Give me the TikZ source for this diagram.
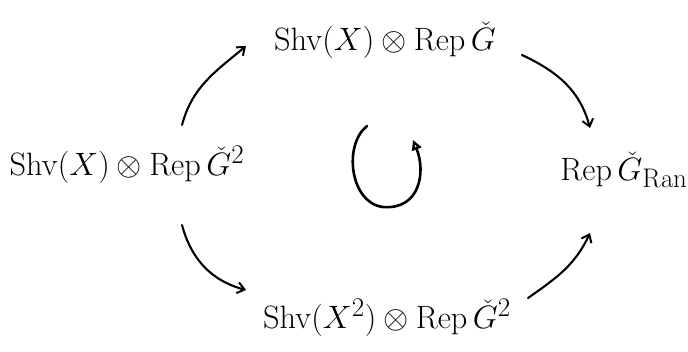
\documentclass[tikz,border=0pt]{standalone}
\usetikzlibrary{arrows.meta}
\newcommand{\bigtxt}[1]{\scalebox{1.3}{\Huge #1}}
\begin{document}
\begin{tikzpicture}[x=1pt,y=-1pt,
  lab/.style={inner sep=0pt},
  arr/.style={line width=2.1pt, line cap=round, -{Straight Barb[length=7pt,width=11pt,line width=2pt]}},
  loop/.style={line width=2.6pt, line cap=round, -{Triangle[open,length=10pt,width=10pt,line width=2.4pt]}}]
\useasboundingbox (0,0) rectangle (688,351);
\node[lab] (T) at (385,40) {\bigtxt{$\mathrm{Shv}(X)\otimes\mathrm{Rep}\,\check{G}$}};
\node[lab] (L) at (127,165) {\bigtxt{$\mathrm{Shv}(X)\otimes\mathrm{Rep}\,\check{G}^2$}};
\node[lab] (R) at (624,170) {\bigtxt{$\mathrm{Rep}\,\check{G}_{\mathrm{Ran}}$}};
\node[lab] (B) at (387,318) {\bigtxt{$\mathrm{Shv}(X^2)\otimes\mathrm{Rep}\,\check{G}^2$}};
\coordinate (a1) at (182,125); \coordinate (a2) at (246,46);
\coordinate (b1) at (522,55);  \coordinate (b2) at (590,128);
\coordinate (c1) at (182,225); \coordinate (c2) at (246,290);
\coordinate (d1) at (528,298); \coordinate (d2) at (590,233);
\draw[arr] (a1) to[out=75,in=220] (a2);
\draw[arr] (b1) to[out=-25,in=105] (b2);
\draw[arr] (c1) to[out=-75,in=165] (c2);
\draw[arr] (d1) to[out=35,in=245] (d2);
\coordinate (o1) at (367,126); \coordinate (o2) at (413,140);
\draw[loop] (o1) .. controls (343,145) and (350,203) .. (383,207) .. controls (420,210) and (426,172) .. (o2);
\end{tikzpicture}
\end{document}
